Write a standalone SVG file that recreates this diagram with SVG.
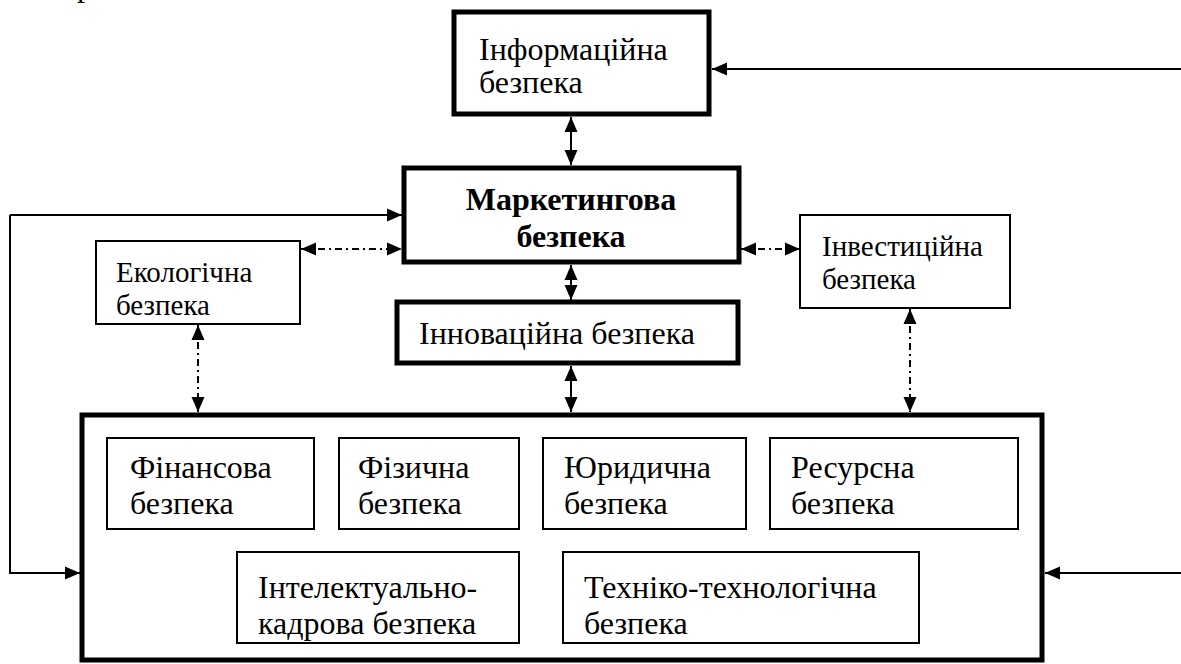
<svg xmlns="http://www.w3.org/2000/svg" width="1181" height="664" viewBox="0 0 1181 664">
<defs>
<style>
.t{font-family:'Liberation Serif','DejaVu Serif',serif;font-size:32px;fill:#000}
.s{font-size:29px}
.b{font-weight:bold;text-anchor:middle}
.thick{fill:#fff;stroke:#000;stroke-width:5}
.thin{fill:#fff;stroke:#000;stroke-width:2}
.c{fill:none;stroke:#000;stroke-width:2}
.dd{stroke-dasharray:7 4 2 4}
</style>
<marker id="ah" markerUnits="userSpaceOnUse" markerWidth="15" markerHeight="15" viewBox="0 0 15 15" refX="15" refY="7.5" orient="auto-start-reverse">
<path d="M0,1 L15,7.5 L0,14 Z" fill="#000"/>
</marker>
</defs>
<rect width="1181" height="664" fill="#fff"/>
<text class="t" x="77" y="-4">р</text>

<g id="connectors">
<line class="c" x1="1181" y1="69" x2="712" y2="69" marker-end="url(#ah)"/>
<line class="c" x1="571" y1="117" x2="571" y2="165" marker-start="url(#ah)" marker-end="url(#ah)"/>
<polyline class="c" points="10,215 10,573 80,573" marker-end="url(#ah)"/>
<line class="c" x1="10" y1="215" x2="402" y2="215" marker-end="url(#ah)"/>
<line class="c dd" x1="301" y1="249" x2="402" y2="249" marker-start="url(#ah)" marker-end="url(#ah)"/>
<line class="c dd" x1="741" y1="249" x2="800" y2="249" marker-start="url(#ah)" marker-end="url(#ah)"/>
<line class="c" x1="571" y1="265" x2="571" y2="300" marker-start="url(#ah)" marker-end="url(#ah)"/>
<line class="c" x1="571" y1="366" x2="571" y2="412" marker-start="url(#ah)" marker-end="url(#ah)"/>
<line class="c dd" x1="198" y1="325" x2="198" y2="412" marker-start="url(#ah)" marker-end="url(#ah)"/>
<line class="c dd" x1="910" y1="309" x2="910" y2="412" marker-start="url(#ah)" marker-end="url(#ah)"/>
<line class="c" x1="1181" y1="573" x2="1045" y2="573" marker-end="url(#ah)"/>
</g>

<g id="info">
<rect class="thick" x="454" y="12" width="255" height="102"/>
<text class="t" x="479" y="60">Інформаційна</text>
<text class="t" x="479" y="93">безпека</text>
</g>
<g id="marketing">
<rect class="thick" x="404" y="168" width="335" height="94"/>
<text class="t b" x="571" y="210">Маркетингова</text>
<text class="t b" x="571" y="247">безпека</text>
</g>
<g id="eco">
<rect class="thin" x="96" y="241" width="204" height="83"/>
<text class="t s" x="116" y="282">Екологічна</text>
<text class="t s" x="116" y="315">безпека</text>
</g>
<g id="invest">
<rect class="thin" x="800" y="215" width="210" height="93"/>
<text class="t s" x="822" y="256">Інвестиційна</text>
<text class="t s" x="822" y="289">безпека</text>
</g>
<g id="innov">
<rect class="thick" x="397" y="302" width="341" height="61"/>
<text class="t" x="419" y="344">Інноваційна безпека</text>
</g>
<g id="group">
<rect class="thick" x="82" y="415" width="960" height="245"/>
</g>
<g id="fin">
<rect class="thin" x="107" y="438" width="207" height="91"/>
<text class="t" x="130" y="478">Фінансова</text>
<text class="t" x="130" y="514">безпека</text>
</g>
<g id="phys">
<rect class="thin" x="339" y="438" width="180" height="91"/>
<text class="t" x="358" y="478">Фізична</text>
<text class="t" x="358" y="514">безпека</text>
</g>
<g id="legal">
<rect class="thin" x="543" y="438" width="203" height="91"/>
<text class="t" x="564" y="478">Юридична</text>
<text class="t" x="564" y="514">безпека</text>
</g>
<g id="resource">
<rect class="thin" x="770" y="438" width="248" height="91"/>
<text class="t" x="791" y="478">Ресурсна</text>
<text class="t" x="791" y="514">безпека</text>
</g>
<g id="intel">
<rect class="thin" x="237" y="552" width="282" height="91"/>
<text class="t" x="258" y="598">Інтелектуально-</text>
<text class="t" x="258" y="634">кадрова безпека</text>
</g>
<g id="tech">
<rect class="thin" x="563" y="552" width="356" height="91"/>
<text class="t" x="584" y="598">Техніко-технологічна</text>
<text class="t" x="584" y="634">безпека</text>
</g>
</svg>
